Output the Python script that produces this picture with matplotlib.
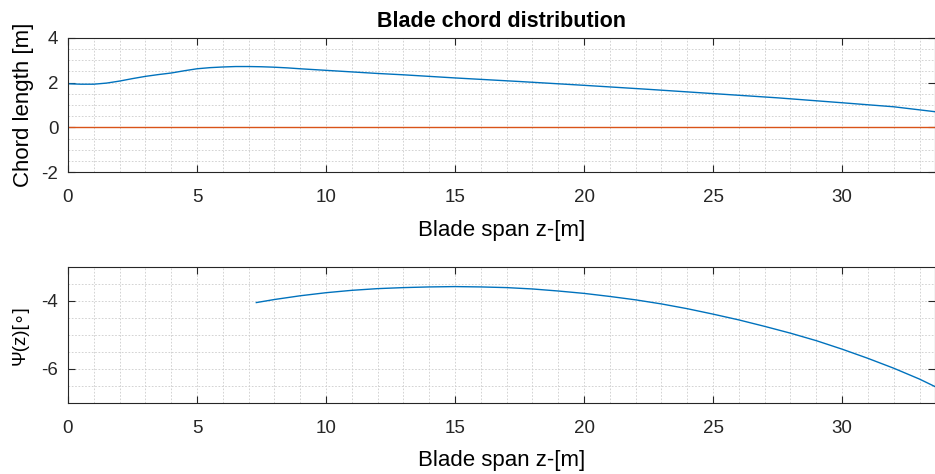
import matplotlib.pyplot as plt
import numpy as np
from matplotlib.ticker import MultipleLocator

plt.rcParams['font.family'] = ['Liberation Sans', 'DejaVu Sans']
plt.rcParams['axes.unicode_minus'] = False

# Chord distribution
z_chord = [0, 0.5, 1, 1.5, 2, 2.5, 3, 3.5, 4, 4.5, 5, 5.5, 6, 6.5, 7, 7.5, 8, 8.5, 9, 10, 11, 12, 13, 14, 15,
           17.5, 20, 22.5, 25, 27.5, 30, 32, 33.6]
chord = [1.95, 1.93, 1.93, 1.98, 2.07, 2.18, 2.28, 2.36, 2.43, 2.53, 2.62, 2.67, 2.7, 2.72, 2.72, 2.71, 2.69,
         2.66, 2.62, 2.55, 2.48, 2.41, 2.35, 2.28, 2.21, 2.05, 1.88, 1.7, 1.51, 1.32, 1.1, 0.92, 0.7]
z_zero = [0, 33.6]
zero_line = [0, 0]

# Twist distribution
z_twist = [7.3, 8, 9, 10, 11, 12, 13, 14, 15, 16, 17, 18, 19, 20, 21, 22, 23, 24, 25, 26, 27, 28, 29, 30,
           31, 32, 33, 33.6]
twist = [-4.05, -3.96, -3.85, -3.76, -3.69, -3.64, -3.61, -3.59, -3.58, -3.59, -3.61, -3.65, -3.71, -3.78,
         -3.87, -3.97, -4.09, -4.23, -4.39, -4.56, -4.75, -4.95, -5.17, -5.42, -5.69, -5.98, -6.3, -6.52]

blue = '#0072BD'
orange = '#D95319'

fig = plt.figure(figsize=(9.35, 4.74), dpi=100)
ax1 = fig.add_axes([0.0727, 0.637, 0.9273, 0.283])
ax2 = fig.add_axes([0.0727, 0.150, 0.9273, 0.287])

ax1.plot(z_chord, chord, color=blue, lw=1.0)
ax1.plot(z_zero, zero_line, color=orange, lw=1.0)
ax1.set_xlim(0, 33.6)
ax1.set_ylim(-2, 4)
ax1.set_yticks([-2, 0, 2, 4])
ax1.yaxis.set_minor_locator(MultipleLocator(0.5))
ax1.set_title('Blade chord distribution', fontsize=15.5, fontweight='bold', pad=8)
ax1.set_ylabel('Chord length [m]', fontsize=16, labelpad=5)
ax1.set_xlabel('Blade span z-[m]', fontsize=16, labelpad=10)

ax2.plot(z_twist, twist, color=blue, lw=1.0)
ax2.set_xlim(0, 33.6)
ax2.set_ylim(-7, -3)
ax2.set_yticks([-6, -4])
ax2.yaxis.set_minor_locator(MultipleLocator(0.5))
ax2.set_ylabel('Ψ(z)[∘]', fontsize=13.5, labelpad=9)
ax2.set_xlabel('Blade span z-[m]', fontsize=16, labelpad=10)

for ax in (ax1, ax2):
    ax.set_xticks([0, 5, 10, 15, 20, 25, 30])
    ax.xaxis.set_minor_locator(MultipleLocator(1))
    ax.tick_params(which='both', direction='in', top=True, right=True, labelsize=13.5, colors='#262626')
    ax.tick_params(which='major', length=5, width=0.8)
    ax.tick_params(axis='x', which='major', pad=12)
    ax.tick_params(axis='y', which='major', pad=7)
    ax.tick_params(which='minor', length=0)
    ax.grid(True, which='both', color='#cccccc', linestyle=(0, (2, 2)), linewidth=0.6)
    ax.set_axisbelow(True)
    for s in ax.spines.values():
        s.set_color('#262626')
        s.set_linewidth(0.8)

fig.savefig('out.png', dpi=100)
